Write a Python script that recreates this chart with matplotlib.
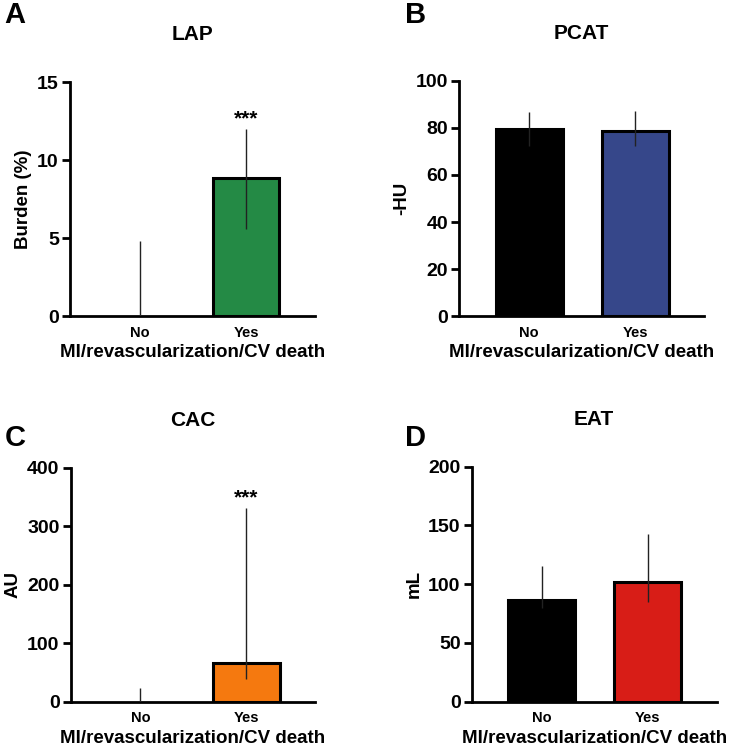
import matplotlib
matplotlib.use("Agg")
import matplotlib.pyplot as plt
import numpy as np

plt.rcParams["font.family"] = ["Liberation Sans", "DejaVu Sans"]
plt.rcParams["font.weight"] = "bold"

# ---------------------------------------------------------------------------
# Data (median with asymmetric IQR-like error bars)
# ---------------------------------------------------------------------------
groups = ["No", "Yes"]
xlabel = "MI/revascularization/CV death"

panel_letters = ["A", "B", "C", "D"]
panel_titles = ["LAP", "PCAT", "CAC", "EAT"]
panel_ylabels = ["Burden (%)", "-HU", "AU", "mL"]

lap_values = [0.0, 8.85]
lap_lower = [0.0, 5.55]
lap_upper = [4.8, 12.0]

pcat_values = [79.5, 78.7]
pcat_lower = [72.5, 72.5]
pcat_upper = [86.9, 87.2]

cac_values = [0.0, 65.5]
cac_lower = [0.0, 38.0]
cac_upper = [24.0, 331.5]

eat_values = [86.5, 102.0]
eat_lower = [80.0, 84.5]
eat_upper = [115.7, 142.7]

yticks = [
    [0, 5, 10, 15],
    [0, 20, 40, 60, 80, 100],
    [0, 100, 200, 300, 400],
    [0, 50, 100, 150, 200],
]
bar_colors = [
    ["#000000", "#248A45"],
    ["#000000", "#36478A"],
    ["#000000", "#F5790F"],
    ["#000000", "#D81D17"],
]
significance = ["***", None, "***", None]

panels = [
    (lap_values, lap_lower, lap_upper),
    (pcat_values, pcat_lower, pcat_upper),
    (cac_values, cac_lower, cac_upper),
    (eat_values, eat_lower, eat_upper),
]

# axes rectangles in figure fraction (left, bottom, width, height)
rects = [
    (0.096, 0.578, 0.336, 0.3125),
    (0.630, 0.578, 0.336, 0.3140),
    (0.097, 0.0632, 0.335, 0.3124),
    (0.647, 0.0632, 0.336, 0.3138),
]
letter_pos = [(0.006, 0.998), (0.555, 0.998), (0.006, 0.434), (0.555, 0.434)]

fig = plt.figure(figsize=(7.29, 7.49), dpi=100)

x = np.arange(len(groups))
for i, (vals, lo, hi) in enumerate(panels):
    ax = fig.add_axes(rects[i])
    vals = np.asarray(vals)
    yerr = np.vstack([vals - np.asarray(lo), np.asarray(hi) - vals])

    # zero-height bars get no outline so they don't thicken the x axis
    edge_w = [2.2 if v > 0 else 0 for v in vals]
    ax.bar(x, vals, width=0.63, color=bar_colors[i], edgecolor="black",
           linewidth=edge_w, zorder=2)
    ax.errorbar(x, vals, yerr=yerr, fmt="none", ecolor="#222222",
                elinewidth=1.0, capsize=0, zorder=3)

    if significance[i]:
        ax.text(x[1], hi[1], significance[i], ha="center", va="bottom",
                fontsize=15, fontweight="bold")

    ax.set_xlim(-0.66, 1.65)
    ax.set_ylim(yticks[i][0], yticks[i][-1])
    ax.set_yticks(yticks[i])
    ax.set_xticks(x)
    ax.set_xticklabels(groups, fontsize=10.5, fontweight="bold")
    ax.tick_params(axis="x", length=0, pad=7)
    ax.tick_params(axis="y", length=6, width=2.0, labelsize=14, pad=2)
    for lbl in ax.get_yticklabels():
        lbl.set_fontweight("bold")

    for side in ("top", "right"):
        ax.spines[side].set_visible(False)
    for side in ("left", "bottom"):
        ax.spines[side].set_linewidth(2.0)

    ax.set_title(panel_titles[i], fontsize=15, fontweight="bold", pad=30)
    ax.set_xlabel(xlabel, fontsize=13.5, fontweight="bold", labelpad=3)
    ax.set_ylabel(panel_ylabels[i], fontsize=13.5, fontweight="bold", labelpad=4)

    fig.text(*letter_pos[i], panel_letters[i], fontsize=21, fontweight="bold",
             ha="left", va="top")

fig.savefig("out.png", dpi=100)
